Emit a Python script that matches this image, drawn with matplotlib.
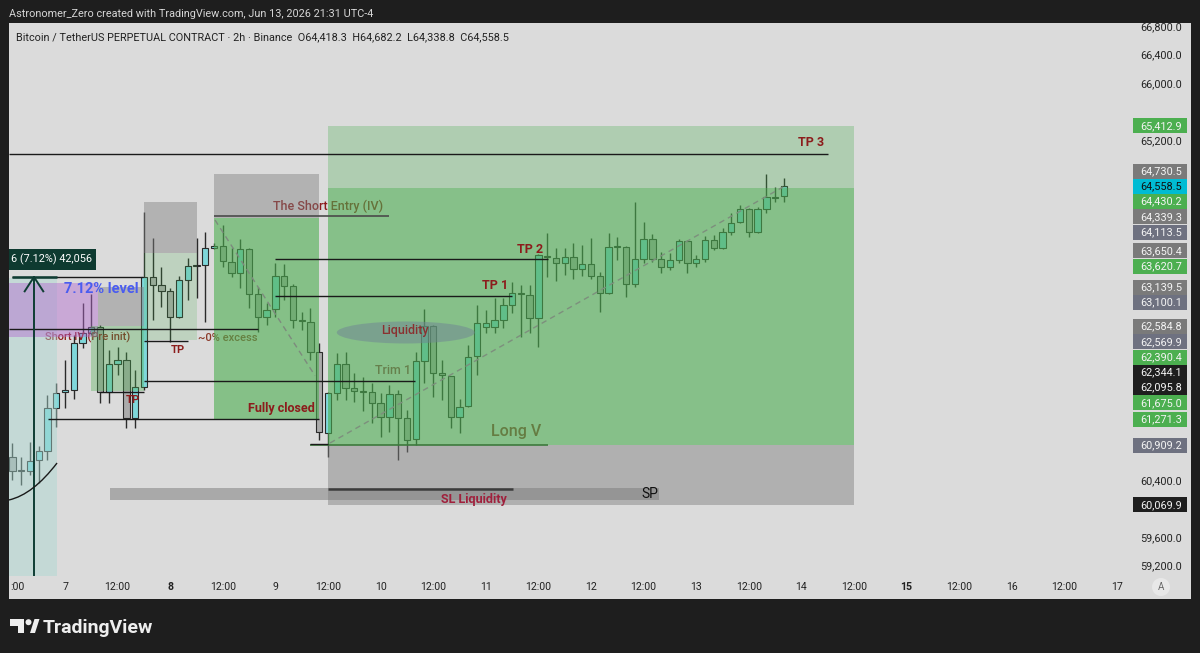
import numpy as np
import matplotlib
matplotlib.use('Agg')
import matplotlib.pyplot as plt
from matplotlib.patches import Rectangle, Ellipse, Polygon, Circle, PathPatch
from matplotlib.path import Path
import matplotlib.transforms as mtransforms

plt.rcParams['font.family'] = ['Roboto', 'DejaVu Sans']

# ---------------- data ----------------
# 2h candles, bar index 0 = Jun 7 00:00, first bar = Jun 6 12:00
first_bar = -6
opens = [60741, 60548, 60552, 60703, 60834, 61436, 61661, 61689, 62352, 62493,
         62577, 61661, 62055, 62112, 61295, 61732, 63282, 63170, 63085, 62719,
         63240, 63437, 63450, 63691, 63720, 63493, 63338, 63677, 63042, 62719,
         62831, 63296, 63155, 62676, 62648, 62225, 61084, 61647, 62055, 61718,
         61675, 61661, 61506, 61309, 61633, 61295, 60999, 62102, 62591, 61929,
         61887, 61309, 61464, 62168, 62577, 62577, 62676, 62887, 63056, 63028,
         62704, 63564, 63550, 63479, 63564, 63395, 63465, 63296, 63056, 63705,
         63705, 63183, 63536, 63813, 63530, 63427, 63521, 63789, 63479, 63530,
         63803, 63691, 63917, 64052, 64240, 63920, 64240, 64413, 64418.3]
highs = [60943, 60745, 60957, 60900, 61619, 61788, 62112, 62464, 62915, 63042,
         62605, 62253, 62295, 62225, 61972, 64200, 63833, 63423, 63127, 63296,
         63550, 63833, 63917, 63762, 64015, 63691, 63818, 63690, 63141, 62915,
         63479, 63465, 63183, 62789, 62845, 62352, 61661, 62211, 62225, 61929,
         61873, 61788, 61647, 61760, 61689, 61408, 62225, 62831, 62605, 62112,
         61890, 61563, 62323, 62887, 62817, 62986, 62986, 63211, 63169, 63169,
         63606, 63903, 63691, 63691, 63762, 63733, 63833, 63352, 63903, 63847,
         63720, 64343, 64061, 63889, 63635, 63620, 63813, 63803, 63592, 63861,
         63875, 63974, 64188, 64297, 64250, 64268, 64730, 64550, 64682.2]
lows = [60422, 60351, 60492, 60379, 60703, 61168, 61436, 61563, 62282, 62464,
        61506, 61506, 61901, 61154, 61154, 61689, 62675, 62859, 62366, 62704,
        62958, 62986, 62647, 63677, 63423, 63282, 63127, 62845, 62507, 62605,
        62719, 62958, 62563, 62535, 62112, 60985, 60746, 61549, 61549, 61520,
        61393, 61224, 61027, 61098, 60703, 60816, 60915, 61788, 61591, 61549,
        61154, 61084, 61450, 61901, 62493, 62493, 62563, 62775, 62436, 62493,
        62295, 63282, 63225, 63310, 63254, 63296, 63254, 62789, 63042, 63522,
        63000, 63141, 63479, 63497, 63338, 63380, 63479, 63338, 63423, 63497,
        63663, 63677, 63875, 64038, 63850, 63906, 64180, 64343, 64338.8]
closes = [60548, 60562, 60693, 60834, 61432, 61651, 61689, 62352, 62493, 62577,
          61661, 62055, 62112, 61295, 61732, 63282, 63170, 63085, 62719, 63240,
          63437, 63450, 63691, 63720, 63508, 63338, 63677, 63042, 62719, 62817,
          63296, 63155, 62676, 62665, 62225, 61102, 61647, 62055, 61718, 61675,
          61668, 61506, 61309, 61633, 61295, 60985, 62102, 62591, 61929, 61901,
          61309, 61450, 62154, 62633, 62633, 62676, 62887, 63056, 63042, 62704,
          63592, 63578, 63479, 63564, 63395, 63465, 63296, 63056, 63705, 63720,
          63183, 63536, 63813, 63530, 63427, 63521, 63789, 63479, 63530, 63803,
          63691, 63917, 64047, 64236, 63920, 64240, 64413, 64400, 64558.5]

x_tick_idx = [-5.47, 0, 6, 12, 18, 24, 30, 36, 42, 48, 54, 60, 66, 72, 78, 84, 90, 96, 102, 108, 114, 120]
x_tick_text = [':00', '7', '12:00', '8', '12:00', '9', '12:00', '10', '12:00', '11', '12:00',
               '12', '12:00', '13', '12:00', '14', '12:00', '15', '12:00', '16', '12:00', '17']
x_tick_bold = ['8', '15']
price_ticks = list(range(59200, 66801, 400))

label_values = [65412.9, 64730.5, 64558.5, 64430.2, 64339.3, 64113.5, 63650.4, 63620.7,
                63139.5, 63100.1, 62584.8, 62569.9, 62390.4, 62344.1, 62095.8, 61675.0,
                61271.3, 60909.2, 60069.9]
label_kinds = ['green', 'gray', 'cyan', 'green', 'gray', 'slate', 'gray', 'green',
               'gray', 'slate', 'gray', 'slate', 'green', 'black', 'black', 'green',
               'green', 'slate', 'black']
current_price = 64558.5

# ---------------- figure ----------------
W, H = 1200, 653
fig = plt.figure(figsize=(W / 100, H / 100), dpi=100)
fig.patch.set_facecolor('#1e1e1e')
BG = '#dbdbdb'

bgax = fig.add_axes([0, 0, 1, 1])
bgax.set_xlim(0, W); bgax.set_ylim(H, 0); bgax.axis('off')
bgax.add_patch(Rectangle((9, 23.3), 1182, 575.7, color=BG, lw=0))

ax_bottom = (H - 576) / H
ax_height = (576 - 23.3) / H
ax = fig.add_axes([9 / W, ax_bottom, 1099 / W, ax_height])
ax.set_facecolor('none')
ax.set_xlim(-6.388, 118.97)
ax.set_ylim(59068.8, 66856.4)
ax.axis('off')

# ---------------- candles ----------------
n = len(opens)
xs = np.arange(n) + first_bar
o = np.array(opens); h = np.array(highs); l = np.array(lows); c = np.array(closes)
bull = c >= o
body_lo = np.minimum(o, c)
body_h = np.maximum(np.abs(c - o), 14)
wick_col = '#2a2a2a'
ax.vlines(xs, l, h, color=wick_col, lw=1.0, zorder=2)
ax.bar(xs[bull], body_h[bull], bottom=body_lo[bull], width=0.72, color='#7fd7da',
       edgecolor=wick_col, linewidth=0.8, zorder=2.1)
ax.bar(xs[~bull], body_h[~bull], bottom=body_lo[~bull], width=0.72, color='#ababab',
       edgecolor=wick_col, linewidth=0.8, zorder=2.1)

DARKRED = '#8c1c1c'

# texts beneath the overlays
ax.text(30.0, 64282, 'The Short Entry (IV)', color=DARKRED, fontsize=9, fontweight='medium',
        ha='center', va='center', zorder=2.5)
ax.text(18.53, 62427, '~0% excess', color='#8c3a2a', fontsize=8, fontweight='medium',
        ha='center', va='center', zorder=2.5)
ax.text(2.57, 62427, 'Short IV (Pre init)', color=DARKRED, fontsize=8, fontweight='medium',
        ha='center', va='center', zorder=2.5)

# ---------------- overlay boxes ----------------
GREEN = '#4caf50'
GRAY = '#808080'
# measure / date range box
ax.add_patch(Rectangle((-6.4, 59000), 5.49, 63270 - 59000, color='#a8d8d0', alpha=0.45, lw=0, zorder=3))
# purple zone
ax.add_patch(Rectangle((-6.4, 62436), 10.16, 63197 - 62436, color='#b46ad0', alpha=0.45, lw=0, zorder=3))
# short position 1
ax.add_patch(Rectangle((9.0, 63620.7), 6.06, 64339.3 - 63620.7, color=GRAY, alpha=0.45, lw=0, zorder=3))
ax.add_patch(Rectangle((9.0, 62390.4), 6.06, 63620.7 - 62390.4, color=GREEN, alpha=0.2, lw=0, zorder=3))
# short position 2
ax.add_patch(Rectangle((17.0, 64113.5), 11.97, 64730.5 - 64113.5, color=GRAY, alpha=0.45, lw=0, zorder=3))
ax.add_patch(Rectangle((17.0, 61271.3), 11.97, 64113.5 - 61271.3, color=GREEN, alpha=0.6, lw=0, zorder=3))
# short position 3
ax.add_patch(Rectangle((3.76, 62584.8), 5.24, 63139.5 - 62584.8, color=GRAY, alpha=0.45, lw=0, zorder=3))
ax.add_patch(Rectangle((2.97, 61675.0), 6.03, 62584.8 - 61675.0, color=GREEN, alpha=0.35, lw=0, zorder=3))
# long position
ax.add_patch(Rectangle((30.0, 60909.2), 60.0, 65412.9 - 60909.2, color=GREEN, alpha=0.3, lw=0, zorder=3))
ax.add_patch(Rectangle((30.0, 60909.2), 60.0, 64536 - 60909.2, color=GREEN, alpha=0.41, lw=0, zorder=3))
ax.add_patch(Rectangle((30.0, 60069.9), 60.0, 60909.2 - 60069.9, color=GRAY, alpha=0.47, lw=0, zorder=3))
# SL liquidity bar
ax.add_patch(Rectangle((5.13, 60140), 62.62, 60305 - 60140, color=GRAY, alpha=0.55, lw=0, zorder=3))
# liquidity ellipse
ax.add_patch(Ellipse((38.87, 62500), 15.74, 310, color='#6f8494', alpha=0.5, lw=0, zorder=3.2))

# ---------------- lines ----------------
LC = '#1a1a1a'
def hline(y, x0, x1, color=LC, lw=1.0, z=4):
    ax.plot([x0, x1], [y, y], color=color, lw=lw, zorder=z, solid_capstyle='butt')

hline(65015, -6.4, 87.03)                 # TP 3
hline(64145, 17.0, 36.96, color='#4a4a4a', lw=1.2)  # short entry
hline(63531, 23.95, 55.09)                # TP 2
hline(63014, 23.95, 50.99)                # TP 1
hline(63282, -6.05, 8.9)                  # measure top
hline(63282, -6.05, -0.9, color='#0f3d33', lw=1.8)
hline(62545, -6.4, 22.0)                  # ~0% excess
hline(62380, 9.0, 14.0)                   # TP
hline(61821, 9.0, 39.9)                   # Trim 1
hline(61666, 4.0, 9.0)
hline(61277, -1.94, 28.97)                # Fully closed
hline(60915, 27.95, 55.09, color='#3d7a3d', lw=1.2)  # Long V
hline(60930, 27.95, 30.0)
hline(60290, 30.0, 51.1, color='#3c3c3c', lw=1.8)    # SL line

# measure arrow
ax.plot([-3.54, -3.54], [59000, 63282], color='#0f3d33', lw=1.4, zorder=4)
ax.plot([-4.6, -3.54, -2.48], [63080, 63282, 63080], color='#0f3d33', lw=1.4, zorder=4)
# arc
arc = Path([(-6.39, 60140), (-3.65, 60217), (-0.91, 60661)], [Path.MOVETO, Path.CURVE3, Path.CURVE3])
ax.add_patch(PathPatch(arc, fill=False, edgecolor='#1a1a1a', lw=1.0, zorder=4))

# dashed trend lines
ax.plot([17.11, 28.52], [64085, 61891], color='#7d8a7d', lw=1.0, ls=(0, (4, 3)), zorder=4)
ax.plot([30.23, 81.9], [60943, 64550], color='#7d8f7d', lw=1.0, ls=(0, (4, 3)), zorder=4)

# measure label
ax.add_patch(Rectangle((-6.6, 63380), 10.14, 296, color='#0e3a30', lw=0, zorder=6, clip_on=True))
ax.text(-6.16, 63528, '6 (7.12%) 42,056', color='white', fontsize=7.8, ha='left', va='center', zorder=7)

# ---------------- labels ----------------
ax.text(4.11, 63113, '7.12% level', color='#4a5cf0', fontsize=10.5, fontweight='bold', ha='center', va='center', zorder=6)
ax.text(12.85, 62253, 'TP', color=DARKRED, fontsize=8, fontweight='bold', ha='center', va='center', zorder=6)
ax.text(7.79, 61549, 'TP', color=DARKRED, fontsize=8, fontweight='bold', ha='center', va='center', zorder=6)
ax.text(24.64, 61422, 'Fully closed', color=DARKRED, fontsize=9, fontweight='bold', ha='center', va='center', zorder=6)
ax.text(53.04, 63676, 'TP 2', color=DARKRED, fontsize=9, fontweight='bold', ha='center', va='center', zorder=6)
ax.text(49.05, 63155, 'TP 1', color=DARKRED, fontsize=9, fontweight='bold', ha='center', va='center', zorder=6)
ax.text(85.15, 65170, 'TP 3', color=DARKRED, fontsize=9, fontweight='bold', ha='center', va='center', zorder=6)
ax.text(37.38, 61971, 'Trim 1', color='#66804c', fontsize=9, fontweight='medium', ha='center', va='center', zorder=6)
ax.text(38.78, 62522, 'Liquidity', color='#8a3030', fontsize=9, fontweight='medium', ha='center', va='center', zorder=6)
ax.text(51.44, 61098, 'Long V', color='#657c42', fontsize=11.5, fontweight='medium', ha='center', va='center', zorder=6)
ax.text(46.65, 60140, 'SL Liquidity', color='#a0203c', fontsize=9, fontweight='bold', ha='center', va='center', zorder=6)
ax.text(66.73, 60225, 'SP', color='#111111', fontsize=10, ha='center', va='center', zorder=6)

# ---------------- price scale ----------------
ax2 = fig.add_axes([1108 / W, ax_bottom, 83 / W, ax_height])
ax2.set_xlim(0, 83); ax2.set_ylim(ax.get_ylim()); ax2.axis('off')

kind_bg = {'green': '#4caf50', 'gray': '#7a7a7a', 'slate': '#6e7180', 'black': '#1e1e1e', 'cyan': '#00bcd4'}
kind_fg = {'green': '#f4f4f4', 'gray': '#f4f4f4', 'slate': '#f4f4f4', 'black': '#f4f4f4', 'cyan': '#111111'}
yr = ax.get_ylim()
px_per_price = (576 - 23.3) / (yr[1] - yr[0])
gap = 15.3 / px_per_price
box_h = 15.0 / px_per_price

pos = {current_price: current_price}
prev = current_price
for v in sorted([v for v in label_values if v > current_price]):
    prev = max(v, prev + gap); pos[v] = prev
prev = current_price
for v in sorted([v for v in label_values if v < current_price], reverse=True):
    prev = min(v, prev - gap); pos[v] = prev
for v, k in zip(label_values, label_kinds):
    yv = pos[v]
    ax2.add_patch(Rectangle((25, yv - box_h / 2), 54, box_h, color=kind_bg[k], lw=0, zorder=5))
    ax2.text(74, yv, f'{v:,.1f}', color=kind_fg[k], fontsize=7.8, ha='right', va='center', zorder=6)

# regular price ticks (those hidden behind a label box are left out)
tick_half = 6.0 / px_per_price
for p in price_ticks:
    if any(abs(p - yv) < box_h / 2 + tick_half for yv in pos.values()):
        continue
    ax2.text(74, p, f'{p:,.1f}', color='#222222', fontsize=7.8, ha='right', va='center', zorder=2)

# ---------------- x axis labels ----------------
xt = mtransforms.blended_transform_factory(ax.transData, fig.transFigure)
for xi, t in zip(x_tick_idx, x_tick_text):
    ax.text(xi, 1 - 587 / H, t, transform=xt, color='#222222', fontsize=7.6, ha='center', va='center',
            fontweight='bold' if t in x_tick_bold else 'normal', clip_on=False, zorder=6)

# ---------------- chrome ----------------
top = fig.add_axes([0, 0, 1, 1])
top.set_xlim(0, W); top.set_ylim(H, 0); top.axis('off'); top.set_facecolor('none')
top.add_patch(Circle((1161, 587), 9, color='#e8e8e8', lw=0))
top.text(1161, 587, 'A', color='#666666', fontsize=7, ha='center', va='center')
top.text(9, 14, 'Astronomer_Zero created with TradingView.com, Jun 13, 2026 21:31 UTC-4',
         color='#d6d6d6', fontsize=7.8, ha='left', va='center')
top.text(16, 37, 'Bitcoin / TetherUS PERPETUAL CONTRACT · 2h · Binance  O64,418.3  H64,682.2  L64,338.8  C64,558.5',
         color='#222222', fontsize=7.8, ha='left', va='center')
# TradingView logo
top.add_patch(Polygon([(10, 619), (24, 619), (24, 633), (17.5, 633), (17.5, 625.5), (10, 625.5)],
                      closed=True, color='#eeeeee', lw=0))
top.add_patch(Circle((28.5, 622.2), 3.0, color='#eeeeee', lw=0))
top.add_patch(Polygon([(30, 633), (34.5, 619), (39.5, 619), (35, 633)], closed=True, color='#eeeeee', lw=0))
top.text(43, 633, 'TradingView', color='#eeeeee', fontsize=14, fontweight='bold', ha='left', va='baseline')

fig.savefig('out.png', dpi=100, facecolor=fig.get_facecolor())
